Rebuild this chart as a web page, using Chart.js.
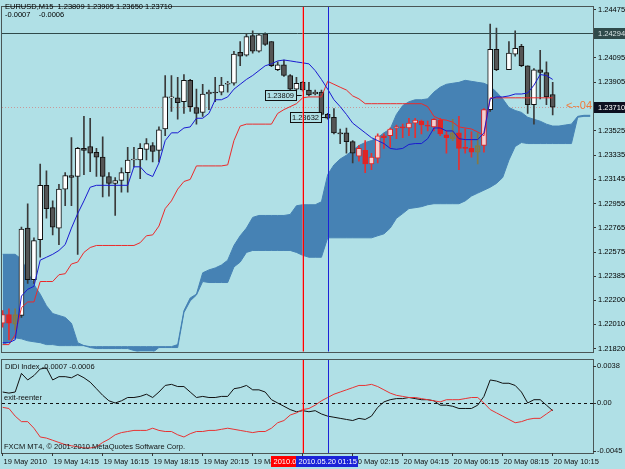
<!DOCTYPE html>
<html><head><meta charset="utf-8">
<script src="https://cdn.jsdelivr.net/npm/chart.js@4.4.0/dist/chart.umd.min.js"></script>
<style>
html,body{margin:0;padding:0;background:#B0E0E6;}
#wrap{position:relative;width:625px;height:469px;overflow:hidden;background:#B0E0E6;}
#c1{position:absolute;left:0;top:0;}
#c2{position:absolute;left:0;top:358px;}
</style></head><body>
<div id="wrap"><canvas id="c1" width="625" height="358"></canvas><canvas id="c2" width="625" height="111"></canvas></div>
<script>
// ---------- DATA ----------
const symbol = 'EURUSD,M15';
const timeTickIdx = [0,8,16,24,32,40,48,56,64,72,80,88];
const timeTickLabels = ['19 May 2010','19 May 14:15','19 May 16:15','19 May 18:15','19 May 20:15','19 May 22:15','20 May 00:15','20 May 02:15','20 May 04:15','20 May 06:15','20 May 08:15','20 May 10:15'];
const priceTicks = [1.24475,1.24095,1.23905,1.23525,1.23335,1.23145,1.22955,1.22765,1.22575,1.22385,1.22200,1.22010,1.21820];

const open = [
1.22018,1.22086,1.22010,1.22079,1.22763,1.22360,1.22672,1.23098,1.22923,1.22763,
1.23068,1.23174,1.23167,1.23387,1.23402,1.23357,1.23319,1.23167,1.23113,1.23136,
1.23197,1.23296,1.23296,1.23380,1.23410,1.23372,1.23539,1.23783,1.23783,1.23752,
1.23920,1.23707,1.23669,1.23813,1.23828,1.23828,1.23889,1.23897,1.24140,1.24117,
1.24270,1.24148,1.24285,1.24224,1.24003,1.24041,1.23958,1.23851,1.23904,1.23844,
1.23813,1.23828,1.23653,1.23631,1.23509,1.23509,1.23440,1.23326,1.23372,1.23265,
1.23311,1.23486,1.23486,1.23547,1.23555,1.23547,1.23585,1.23600,1.23570,1.23555,
1.23608,1.23494,1.23463,1.23509,1.23395,1.23387,1.23357,1.23410,1.23691,1.24163,
null,1.24003,1.24125,1.24186,1.24034,1.23730,1.24003,1.23981,1.23809];
const high = [
1.22117,1.22132,1.22132,1.22771,1.22954,1.22687,1.23265,1.23212,1.22976,1.23106,
1.23197,1.23471,1.23395,1.23638,1.23623,1.23387,1.23478,1.23197,1.23159,1.23235,
1.23395,1.23395,1.23425,1.23463,1.23433,1.23555,1.23958,1.23958,1.23943,1.23965,
1.23927,1.23851,1.23889,1.23844,1.23943,1.23943,1.23912,1.24148,1.24224,1.24285,
1.24308,1.24285,1.24292,1.24224,1.24064,1.24079,1.23965,1.23943,1.23912,1.23904,
1.23844,1.23844,1.23661,1.23699,1.23539,1.23547,1.23448,1.23410,1.23448,1.23349,
1.23501,1.23501,1.23547,1.23570,1.23577,1.23623,1.23623,1.23608,1.23600,1.23623,
1.23623,1.23524,1.23615,1.23638,1.23539,1.23516,1.23509,1.23699,1.24361,1.24330,
null,1.24224,1.24308,1.24201,1.24034,1.24011,1.24155,1.24064,1.23905];
const low = [
1.21988,1.21889,1.21965,1.22064,1.22330,1.22330,1.22535,1.22840,1.22710,1.22634,
1.22938,1.22938,1.22558,1.23182,1.23205,1.23167,1.23007,1.23014,1.22862,1.23045,
1.23045,1.23243,1.23151,1.23296,1.23281,1.23281,1.23486,1.23676,1.23615,1.23661,
1.23676,1.23577,1.23638,1.23691,1.23752,1.23806,1.23828,1.23882,1.24034,1.24110,
1.24133,1.24140,1.24194,1.24026,1.23996,1.23950,1.23836,1.23844,1.23836,1.23798,
1.23806,1.23646,1.23615,1.23501,1.23425,1.23349,1.23273,1.23288,1.23197,1.23220,
1.23273,1.23387,1.23395,1.23463,1.23471,1.23486,1.23471,1.23501,1.23524,1.23524,
1.23486,1.23349,1.23448,1.23220,1.23349,1.23319,1.23265,1.23357,1.23676,1.23996,
null,1.24003,1.24110,1.24026,1.23661,1.23577,1.23775,1.23730,1.23650];
const close = [
1.22086,1.22018,1.22086,1.22756,1.22360,1.22665,1.23098,1.22916,1.22771,1.23068,
1.23174,1.23159,1.23387,1.23372,1.23349,1.23319,1.23167,1.23113,1.23136,1.23197,
1.23296,1.23304,1.23387,1.23425,1.23364,1.23532,1.23790,1.23790,1.23745,1.23920,
1.23714,1.23661,1.23813,1.23828,1.23821,1.23882,1.23897,1.24125,1.24110,1.24262,
1.24148,1.24277,1.24201,1.24034,1.24041,1.23958,1.23851,1.23897,1.23844,1.23806,
1.23828,1.23653,1.23623,1.23509,1.23501,1.23440,1.23349,1.23387,1.23265,1.23319,
1.23486,1.23471,1.23539,1.23555,1.23547,1.23585,1.23608,1.23570,1.23562,1.23615,
1.23501,1.23471,1.23509,1.23387,1.23387,1.23357,1.23410,1.23691,1.24163,1.24003,
null,1.24133,1.24171,1.24034,1.23730,1.24003,1.23981,1.23790,1.23710];
const redBars = [0,1,57,58,59,60,61,62,63,64,65,66,67,68,69,70,71,73,74,75,77];
const oliveBars = [2,72,76];

const tenkan = [
1.21866,1.21866,1.21889,1.22231,1.22284,1.22307,1.22512,1.22535,1.22558,1.22588,
1.22634,1.22763,1.22877,1.22976,1.23083,1.23098,1.23098,1.23098,1.23098,1.23098,
1.23098,1.23243,1.23243,1.23189,1.23167,1.23273,1.23448,1.23509,1.23509,1.23547,
1.23555,1.23623,1.23623,1.23661,1.23768,1.23768,1.23790,1.23851,1.23889,1.23927,
1.23958,1.23996,1.24034,1.24049,1.24072,1.24079,1.24072,1.24064,1.24057,1.24049,
1.23996,1.23927,1.23851,1.23768,1.23714,1.23653,1.23585,1.23547,1.23509,1.23471,
1.23448,1.23425,1.23387,1.23380,1.23387,1.23418,1.23425,1.23425,1.23463,1.23547,
1.23547,1.23524,1.23524,1.23463,1.23456,1.23456,1.23456,1.23509,1.23775,1.23790,
1.23790,1.23798,1.23813,1.23813,1.23821,1.23882,1.23965,1.23958,1.23927];
const kijun = [
1.21851,1.21851,1.21927,1.22140,1.22185,1.22185,1.22345,1.22345,1.22345,1.22398,
1.22406,1.22482,1.22497,1.22573,1.22611,1.22627,1.22627,1.22627,1.22627,1.22627,
1.22627,1.22627,1.22649,1.22703,1.22710,1.22779,1.22916,1.22976,1.23068,1.23128,
1.23144,1.23250,1.23250,1.23250,1.23250,1.23250,1.23258,1.23448,1.23562,1.23577,
1.23577,1.23577,1.23577,1.23577,1.23661,1.23691,1.23714,1.23737,1.23783,1.23790,
1.23790,1.23790,1.23912,1.23889,1.23866,1.23844,1.23798,1.23775,1.23737,1.23737,
1.23737,1.23737,1.23737,1.23737,1.23737,1.23737,1.23737,1.23737,1.23714,1.23638,
1.23615,1.23608,1.23593,1.23555,1.23547,1.23539,1.23516,1.23486,1.23783,1.23783,
1.23783,1.23783,1.23783,1.23783,1.23783,1.23783,1.23783,1.23783,1.23783];
const senkouUpper = [
1.22558,1.22558,1.22558,1.22520,1.22421,1.22322,1.22246,1.22155,1.22094,1.22079,
1.22064,1.22018,1.21866,1.21843,1.21835,1.21835,1.21835,1.21835,1.21835,1.21835,
1.21835,1.21835,1.21835,1.21835,1.21835,1.21835,1.21835,1.21835,1.21851,1.22117,
1.22216,1.22246,1.22413,1.22436,1.22451,1.22474,1.22512,1.22627,1.22703,1.22763,
1.22847,1.22862,1.22862,1.22862,1.22862,1.22862,1.22870,1.22938,1.22946,1.22946,
1.22946,1.22969,1.23182,1.23258,1.23304,1.23334,1.23372,1.23410,1.23433,1.23448,
1.23471,1.23509,1.23539,1.23653,1.23722,1.23752,1.23768,1.23768,1.23775,1.23828,
1.23866,1.23889,1.23897,1.23904,1.23920,1.23912,1.23904,1.23897,1.23874,1.23828,
1.23775,1.23707,1.23684,1.23669,1.23631,1.23615,1.23600,1.23577,1.23562,1.23562,
1.23570,1.23577,1.23638,1.23646,1.23646];
const senkouLower = [
1.21851,1.21873,1.21904,1.21896,1.21881,1.21873,1.21866,1.21851,1.21851,1.21843,
1.21843,1.21843,1.21843,1.21843,1.21828,1.21820,1.21820,1.21820,1.21820,1.21820,
1.21820,1.21805,1.21790,1.21790,1.21790,1.21828,1.21828,1.21828,1.21828,1.22102,
1.22193,1.22239,1.22345,1.22337,1.22337,1.22337,1.22337,1.22459,1.22497,1.22573,
1.22588,1.22588,1.22588,1.22588,1.22588,1.22588,1.22588,1.22573,1.22550,1.22535,
1.22535,1.22535,1.22687,1.22687,1.22687,1.22687,1.22687,1.22687,1.22687,1.22687,
1.22703,1.22718,1.22763,1.22840,1.22877,1.22916,1.22923,1.22931,1.22946,1.22954,
1.22954,1.22954,1.22954,1.22954,1.22976,1.23014,1.23037,1.23060,1.23083,1.23113,
1.23159,1.23296,1.23402,1.23433,1.23425,1.23425,1.23425,1.23425,1.23425,1.23425,
1.23425,1.23425,1.23631,1.23638,1.23638];

const didiMain = [
0.0010,0.0009,0.0010,0.0027,0.0021,0.0025,0.0031,0.0032,0.0021,0.0024,
0.0024,0.0023,0.0026,0.0023,0.0019,0.0013,0.0007,0.0002,0.0000,0.0002,
0.0005,0.0005,0.0006,0.0008,0.0005,0.0010,0.0016,0.0017,0.0015,0.0015,
0.0010,0.0005,0.0006,0.0005,0.0005,0.0006,0.0006,0.0013,0.0014,0.0016,
0.0012,0.0012,0.0010,0.0003,0.0000,-0.0003,-0.0006,-0.0008,-0.0007,-0.0008,
-0.0007,-0.0010,-0.0012,-0.0013,-0.0014,-0.0015,-0.0016,-0.0014,-0.0015,-0.0012,
-0.0004,0.0001,0.0003,0.0004,0.0004,0.0005,0.0004,0.0003,0.0003,0.0002,
-0.0002,-0.0002,-0.0003,-0.0005,-0.0005,-0.0005,-0.0002,0.0006,0.0021,0.0020,
0.0018,0.0018,0.0016,0.0010,0.0000,0.0003,0.0003,-0.0002,-0.0007];
const didiSignal = [
-0.0004,-0.0005,-0.0012,-0.0017,-0.0017,-0.0023,-0.0031,-0.0032,-0.0034,-0.0036,
-0.0038,-0.0039,-0.0040,-0.0041,-0.0041,-0.0040,-0.0036,-0.0033,-0.0029,-0.0027,
-0.0026,-0.0025,-0.0025,-0.0025,-0.0023,-0.0025,-0.0026,-0.0026,-0.0029,-0.0031,
-0.0028,-0.0026,-0.0026,-0.0025,-0.0025,-0.0024,-0.0023,-0.0024,-0.0025,-0.0026,
-0.0027,-0.0026,-0.0026,-0.0023,-0.0018,-0.0016,-0.0011,-0.0009,-0.0006,-0.0005,
-0.0002,0.0002,0.0005,0.0008,0.0010,0.0012,0.0014,0.0016,0.0016,0.0017,
0.0015,0.0012,0.0009,0.0007,0.0006,0.0005,0.0005,0.0004,0.0003,0.0002,
0.0001,0.0003,0.0003,0.0003,0.0004,0.0005,0.0005,0.0000,-0.0006,-0.0009,
-0.0012,-0.0015,-0.0018,-0.0017,-0.0015,-0.0014,-0.0014,-0.0010,-0.0006];
const didiTicks = [0.0038, 0, -0.0045];
const didiTickLabels = ['0.0038','0.00','-0.0045'];
const didiLevel = 0;

const hLevel = 1.24294;
const vLines = [{at:48, label:'2010.05.20 00:15', color:'#ff0000', halo:'rgba(255,110,110,0.55)'}, {at:52, label:'2010.05.20 01:15', color:'#1a22d8', halo:null}];
const priceNotes = [{at:48, value:1.23809}, {at:52, value:1.23632}];
const arrowNote = '<--04';

// ---------- SETUP ----------
const FONT = '"Liberation Sans", Arial, sans-serif';
Chart.defaults.font.family = FONT;
Chart.defaults.font.size = 7.5;
Chart.defaults.color = '#000';
const N = close.length;
const X_MIN = -0.11, X_MAX = 94.45;
const pts = arr => arr.map((v,i)=>({x:i,y:v}));
const valid = [];
for (let i=0;i<N;i++) if (close[i]!==null) valid.push(i);

function style(i){
  const bull = close[i] >= open[i];
  if (redBars.includes(i)) return {fill: bull ? '#f4d0d0' : '#e02424', line:'#e02424', wick:'#e83030'};
  if (oliveBars.includes(i)) return {fill: bull ? 'rgba(0,0,0,0)' : '#6d6240', line:'#857a45', wick:'#857a45'};
  return {fill: bull ? '#ffffff' : '#555555', line:'#111111', wick:'#3a3a3a'};
}
const MINB = 0.00008;
const bodyData = valid.map(i=>{
  let o=open[i], c=close[i];
  if (Math.abs(o-c) < MINB){ const m=(o+c)/2; o=m-MINB/2; c=m+MINB/2; }
  return {x:i, y:[o,c]};
});
const wickData = valid.map(i=>({x:i, y:[low[i],high[i]]}));

function font(sz){ return sz + 'px ' + FONT; }
function frame(ctx,a){
  ctx.save(); ctx.setLineDash([]); ctx.strokeStyle='#4a5656'; ctx.lineWidth=1;
  ctx.strokeRect(Math.round(a.left)-0.5, Math.round(a.top)-0.5, Math.round(a.right-a.left)+1, Math.round(a.bottom-a.top)+1);
  ctx.restore();
}
function drawVLines(ctx,a,x){
  ctx.save(); ctx.setLineDash([]); ctx.lineWidth=1;
  vLines.forEach(v=>{
    const px = Math.round(x.getPixelForValue(v.at))+0.5;
    if (v.halo){ ctx.strokeStyle=v.halo; ctx.beginPath(); ctx.moveTo(px-1,a.top); ctx.lineTo(px-1,a.bottom); ctx.stroke(); }
    ctx.strokeStyle=v.color; ctx.beginPath(); ctx.moveTo(px,a.top); ctx.lineTo(px,a.bottom); ctx.stroke();
  });
  ctx.restore();
}

const mainDeco = {
  id:'mainDeco',
  beforeDatasetsDraw(chart){
    const {ctx, chartArea:a, scales:{y}} = chart;
    ctx.save();
    ctx.beginPath(); ctx.rect(a.left,a.top,a.right-a.left,a.bottom-a.top); ctx.clip();
    const yb = Math.round(y.getPixelForValue(close[N-1]))+0.5;
    ctx.setLineDash([1,2]); ctx.strokeStyle='#c89a9a'; ctx.lineWidth=1;
    ctx.beginPath(); ctx.moveTo(a.left,yb); ctx.lineTo(a.right,yb); ctx.stroke();
    ctx.restore();
  },
  afterDatasetsDraw(chart){
    const {ctx, chartArea:a, scales:{x,y}} = chart;
    ctx.save();
    ctx.beginPath(); ctx.rect(a.left,a.top,a.right-a.left,a.bottom-a.top); ctx.clip();
    const yh = Math.round(y.getPixelForValue(hLevel))+0.5;
    ctx.strokeStyle='#2f4a4a'; ctx.lineWidth=1;
    ctx.beginPath(); ctx.moveTo(a.left,yh); ctx.lineTo(a.right,yh); ctx.stroke();
    ctx.font = font(7.5); ctx.textBaseline='middle'; ctx.textAlign='left';
    priceNotes.forEach(n=>{
      const lx = x.getPixelForValue(n.at);
      const py = Math.round(y.getPixelForValue(n.value))+0.5;
      const t = n.value.toFixed(5);
      const w = ctx.measureText(t).width + 4;
      const right = Math.round(lx) - 7;
      const left = right - w;
      ctx.fillStyle='#B0E0E6'; ctx.fillRect(left, py-5, w, 10);
      ctx.strokeStyle='#111'; ctx.strokeRect(Math.round(left)+0.5, py-5, Math.round(w), 10);
      ctx.beginPath(); ctx.moveTo(right, py); ctx.lineTo(lx-1, py); ctx.stroke();
      ctx.fillStyle='#111'; ctx.fillText(t, left+2, py+0.5);
    });
    ctx.fillStyle='#f07a3a'; ctx.font=font(11); ctx.textAlign='right';
    ctx.fillText(arrowNote, a.right-1, y.getPixelForValue(close[N-1])-1);
    ctx.restore();
    drawVLines(ctx,a,x);
  },
  afterDraw(chart){
    const {ctx, chartArea:a, scales:{y}} = chart;
    frame(ctx,a);
    ctx.save();
    ctx.font = font(7.5); ctx.textBaseline='middle'; ctx.textAlign='left'; ctx.fillStyle='#000';
    ctx.fillText(symbol+'  '+[open[N-1],high[N-1],low[N-1],close[N-1]].map(v=>v.toFixed(5)).join(' '), 5, 7);
    ctx.fillText(didiMain[N-1].toFixed(4)+'    '+didiSignal[N-1].toFixed(4), 5, 15);
    [[hLevel,'#2f4a4a','#d8e4e4'],[close[N-1],'#0c1020','#ffffff']].forEach(([v,bg,fg])=>{
      const py = Math.round(y.getPixelForValue(v));
      ctx.fillStyle=bg; ctx.fillRect(a.right+1, py-5, 625-a.right-1, 11);
      ctx.fillStyle=fg; ctx.fillText(v.toFixed(5), a.right+5, py+0.5);
    });
    ctx.restore();
  }
};

new Chart(document.getElementById('c1'), {
  type:'bar',
  data:{datasets:[
    {type:'line', data:pts(senkouLower), borderColor:'#4682B4', borderWidth:1, pointRadius:0, fill:false, order:10},
    {type:'line', data:pts(senkouUpper), borderColor:'#4682B4', borderWidth:1, pointRadius:0, fill:'-1', backgroundColor:'#4682B4', order:9},
    {type:'bar', data:wickData, barThickness:1, grouped:false, backgroundColor:valid.map(i=>style(i).wick), borderWidth:0, order:4},
    {type:'bar', data:bodyData, barThickness:5, grouped:false, backgroundColor:valid.map(i=>style(i).fill), borderColor:valid.map(i=>style(i).line), borderWidth:1, borderSkipped:false, order:3},
    {type:'line', data:pts(kijun), borderColor:'#ec2a2a', borderWidth:1, pointRadius:0, fill:false, order:2},
    {type:'line', data:pts(tenkan), borderColor:'#1a1ad0', borderWidth:1, pointRadius:0, fill:false, order:1}
  ]},
  options:{
    responsive:false, devicePixelRatio:1, animation:false, events:[],
    layout:{padding:{left:2,top:2,right:0,bottom:1}},
    plugins:{legend:{display:false}, tooltip:{enabled:false}},
    scales:{
      x:{type:'linear', min:X_MIN, max:X_MAX, offset:false, display:false},
      y:{type:'linear', position:'right', min:1.21797, max:1.24498,
         afterBuildTicks:s=>{ s.ticks = priceTicks.map(v=>({value:v})); },
         afterFit:s=>{ s.width = 32; },
         ticks:{autoSkip:false, padding:2, callback:v=>Number(v).toFixed(5), font:{size:7.5}, color:'#000'},
         grid:{drawOnChartArea:false, tickLength:3, color:'#333'},
         border:{display:true, color:'#4a5656'}}
    }
  },
  plugins:[mainDeco]
});

const indDeco = {
  id:'indDeco',
  beforeDatasetsDraw(chart){
    const {ctx, chartArea:a, scales:{y}} = chart;
    ctx.save();
    const py = Math.round(y.getPixelForValue(didiLevel))+0.5;
    ctx.setLineDash([3,3]); ctx.strokeStyle='#111'; ctx.lineWidth=1;
    ctx.beginPath(); ctx.moveTo(a.left,py); ctx.lineTo(a.right,py); ctx.stroke();
    ctx.restore();
  },
  afterDatasetsDraw(chart){
    const {ctx, chartArea:a, scales:{x}} = chart;
    drawVLines(ctx,a,x);
  },
  afterDraw(chart){
    const {ctx, chartArea:a, scales:{x,y}} = chart;
    frame(ctx,a);
    ctx.save();
    ctx.font=font(7.5); ctx.textBaseline='middle'; ctx.textAlign='left'; ctx.fillStyle='#111';
    ctx.fillText('DiDi Index '+didiMain[N-1].toFixed(4)+' '+didiSignal[N-1].toFixed(4), 5, a.top+7);
    ctx.fillText('exit-reenter', 4, y.getPixelForValue(didiLevel)-5);
    ctx.fillText('FXCM MT4, \u00A9 2001-2010 MetaQuotes Software Corp.', 4, a.bottom-6);
    didiTicks.forEach((v,k)=>{
      let py = y.getPixelForValue(v);
      py = Math.min(Math.max(py, a.top+6), a.bottom-2);
      ctx.strokeStyle='#333'; ctx.beginPath(); ctx.moveTo(a.right,Math.round(py)+0.5); ctx.lineTo(a.right+3,Math.round(py)+0.5); ctx.stroke();
      ctx.fillText(didiTickLabels[k], a.right+4, py);
    });
    timeTickIdx.forEach((idx,k)=>{
      const px = Math.round(x.getPixelForValue(idx))-0.5;
      ctx.strokeStyle='#333'; ctx.beginPath(); ctx.moveTo(px,a.bottom); ctx.lineTo(px,a.bottom+3); ctx.stroke();
      ctx.fillText(timeTickLabels[k], px+1, a.bottom+9);
    });
    vLines.forEach(v=>{
      const px = x.getPixelForValue(v.at);
      const w = ctx.measureText(v.label).width + 4;
      ctx.fillStyle=v.color; ctx.fillRect(Math.round(px-w/2), a.bottom+3, Math.round(w), 11);
      ctx.fillStyle='#fff'; ctx.textAlign='center'; ctx.fillText(v.label, px, a.bottom+9);
      ctx.textAlign='left';
    });
    ctx.restore();
  }
};

new Chart(document.getElementById('c2'), {
  type:'line',
  data:{datasets:[
    {data:pts(didiSignal), borderColor:'#e83232', borderWidth:1, pointRadius:0, fill:false},
    {data:pts(didiMain), borderColor:'#111111', borderWidth:1, pointRadius:0, fill:false}
  ]},
  options:{
    responsive:false, devicePixelRatio:1, animation:false, events:[],
    layout:{padding:{left:2,top:2,right:0,bottom:16}},
    plugins:{legend:{display:false}, tooltip:{enabled:false}},
    scales:{
      x:{type:'linear', min:X_MIN, max:X_MAX, offset:false, display:false},
      y:{type:'linear', position:'right', min:-0.00456, max:0.00392,
         afterFit:s=>{ s.width = 32; },
         ticks:{display:false}, grid:{display:false}, border:{display:false}}
    }
  },
  plugins:[indDeco]
});
</script>
</body></html>
